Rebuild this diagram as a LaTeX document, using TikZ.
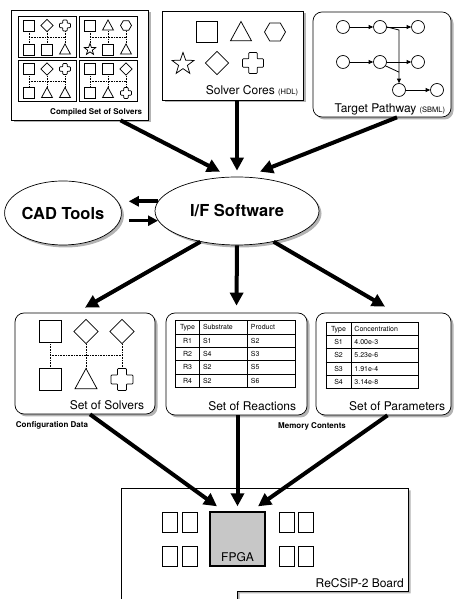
\documentclass[tikz,border=0pt]{standalone}
\usepackage{fontspec}
\setmainfont{TeX Gyre Heros}
\usepackage{array}
\usepackage{tikz}
\usetikzlibrary{arrows.meta,positioning,shapes.geometric,shadows}
\renewcommand{\arraystretch}{1.48}
\setlength{\arrayrulewidth}{0.9pt}
\setlength{\tabcolsep}{3pt}
\tikzset{
  panel/.style={draw,fill=white,line width=0.7pt,
                drop shadow={shadow xshift=2.5pt,shadow yshift=-2.5pt,fill=black!50,opacity=.6}},
  rpanel/.style={panel,rounded corners=9pt},
  blob/.style={panel,ellipse,inner sep=0pt,font=\fontsize{16.5}{19}\selectfont\bfseries},
  subbox/.style={draw,line width=1pt,minimum width=58pt,minimum height=41pt,inner sep=0pt},
  lbl/.style={font=\fontsize{12}{14}\selectfont,inner sep=1pt},
  tag/.style={font=\fontsize{8}{9.5}\selectfont\bfseries,inner sep=1pt},
  tbl/.style={inner sep=0pt,font=\fontsize{7}{8.4}\selectfont},
  spot/.style={circle,draw,line width=0.7pt,minimum size=13pt,inner sep=0pt},
  chip/.style={draw,line width=0.9pt,minimum width=15pt,minimum height=20pt,inner sep=0pt},
  fpgabox/.style={draw,fill=black!22,line width=1.4pt,minimum width=55pt,minimum height=54pt},
  icon/.style={draw,fill=white,line width=0.75pt},
  link/.style={densely dotted,line width=0.6pt},
  bigflow/.style={-{Triangle[length=13pt,width=13pt]},line width=4pt},
  sideflow/.style={-{Triangle[length=10pt,width=10pt]},line width=3.6pt},
  netflow/.style={-{Triangle[length=4.5pt,width=4pt]},line width=0.8pt},
  % solver core symbols, #1 = width
  pics/sq/.style={code={\draw[icon] (-#1/2,-#1/2) rectangle (#1/2,#1/2);}},
  pics/sq/.default=11,
  pics/dm/.style={code={\draw[icon] (0,.55*#1) -- (.55*#1,0) -- (0,-.55*#1) -- (-.55*#1,0) -- cycle;}},
  pics/dm/.default=11,
  pics/tri/.style={code={\draw[icon] (-.5*#1,-.42*#1) -- (.5*#1,-.42*#1) -- (0,.5*#1) -- cycle;}},
  pics/tri/.default=11,
  pics/hex/.style={code={\draw[icon] (.5*#1,0) -- (.25*#1,.43*#1) -- (-.25*#1,.43*#1) -- (-.5*#1,0)
                         -- (-.25*#1,-.43*#1) -- (.25*#1,-.43*#1) -- cycle;}},
  pics/hex/.default=11,
  pics/st/.style={code={\draw[icon] (90:{.55*#1}) -- (126:{.22*#1}) -- (162:{.55*#1}) -- (198:{.22*#1})
                         -- (234:{.55*#1}) -- (270:{.22*#1}) -- (306:{.55*#1}) -- (342:{.22*#1})
                         -- (18:{.55*#1}) -- (54:{.22*#1}) -- cycle;}},
  pics/st/.default=11,
  pics/crs/.style={code={\draw[icon,rounded corners=0.8pt] (-.2*#1,.5*#1) -- (.2*#1,.5*#1) -- (.2*#1,.2*#1)
                         -- (.5*#1,.2*#1) -- (.5*#1,-.2*#1) -- (.2*#1,-.2*#1) -- (.2*#1,-.5*#1)
                         -- (-.2*#1,-.5*#1) -- (-.2*#1,-.2*#1) -- (-.5*#1,-.2*#1) -- (-.5*#1,.2*#1)
                         -- (-.2*#1,.2*#1) -- cycle;}},
  pics/crs/.default=11
}
% #1 centre, #2 scale, #3--#5 top row, #6--#8 bottom row
\newcommand\solvergrid[8]{%
  \begin{scope}[shift={(#1)},scale=#2]
    \draw[link] (-18,0) -- (18,0);
    \foreach \dx in {-18,0,18} \draw[link] (\dx,6.5) -- (\dx,-6.5);
    \pic at (-18,12) {#3=11*#2}; \pic at (0,12) {#4=11*#2}; \pic at (18,12) {#5=11*#2};
    \pic at (-18,-12) {#6=11*#2}; \pic at (0,-12) {#7=11*#2}; \pic at (18,-12) {#8=11*#2};
  \end{scope}}

\begin{document}
\begin{tikzpicture}[x=1pt,y=1pt]
  \useasboundingbox (0,0) rectangle (453,599);

  % inputs
  \node[panel,minimum width=137pt,minimum height=110pt] (compiled) at (79.5,534) {};
  \node[subbox] (tl) at (47,561.5) {};
  \node[subbox] (tr) at (108,561.5) {};
  \node[subbox] (bl) at (47,518) {};
  \node[subbox] (br) at (108,518) {};
  \solvergrid{tl}{1}{sq}{dm}{crs}{sq}{sq}{tri}
  \solvergrid{tr}{1}{sq}{tri}{hex}{st}{sq}{tri}
  \solvergrid{bl}{1}{sq}{dm}{crs}{sq}{tri}{tri}
  \solvergrid{br}{1}{sq}{sq}{dm}{sq}{tri}{crs}
  \node[tag,above left=2.5pt and 5pt of compiled.south east] (compiledlbl) {Compiled Set of Solvers};

  \node[panel,minimum width=141pt,minimum height=89pt] (cores) at (232.5,543.5) {};
  \pic at (207,567) {sq=21};
  \pic at (241,567) {tri=21};
  \pic at (275,567) {hex=21};
  \pic at (183,535) {st=21};
  \pic at (217,536) {dm=21};
  \pic at (253,536) {crs=21};
  \node[lbl,above left=3pt and 4pt of cores.south east] (coreslbl)
    {Solver Cores {\fontsize{7.5}{9}\selectfont(HDL)}};

  \node[rpanel,minimum width=138pt,minimum height=105pt] (pathway) at (382,534.5) {};
  \node[spot] (p11) at (343,572) {};
  \node[spot] (p12) at (380,572) {};
  \node[spot] (p13) at (418,572) {};
  \node[spot] (p21) at (343,537) {};
  \node[spot] (p22) at (380,537) {};
  \node[spot] (p23) at (418,537) {};
  \node[spot] (p31) at (399,509) {};
  \node[spot] (p32) at (437,509) {};
  \draw[netflow] (p11) -- (p12);
  \draw[netflow] (p12) -- (p13);
  \draw[netflow] (p21) -- (p22);
  \draw[netflow] (p22) -- (p23);
  \draw[netflow] (p31) -- (p32);
  \draw[netflow] (p12.east) -- ([yshift=-3pt]p12.east -| p31) -- (p31);
  \draw[line width=0.8pt] (p22.-35) -- ([yshift=11pt]p31.north);
  \node[lbl,above left=1pt and 5pt of pathway.south east] (pathwaylbl)
    {Target Pathway {\fontsize{7.5}{9}\selectfont(SBML)}};

  % software
  \node[blob,minimum width=164pt,minimum height=68pt] (iface) at (237,388) {I/F Software};
  \node[blob,minimum width=104pt,minimum height=64pt] (cad) at (63,386) {CAD Tools};
  \draw[bigflow] ([xshift=41pt]compiled.south) -- ([xshift=-17pt,yshift=5pt]iface.north);
  \draw[bigflow] (iface.north |- cores.south) -- ([yshift=6pt]iface.north);
  \draw[bigflow] ([xshift=15pt]pathway.south) -- ([xshift=23pt,yshift=5pt]iface.north);
  \draw[sideflow,shorten >=7pt] (iface.173) -- (cad.east |- iface.173);
  \draw[sideflow,shorten <=7pt] (cad.east |- iface.187) -- (iface.187);

  % generated data
  \node[rpanel,minimum width=140pt,minimum height=101pt] (solvers) at (85,235.5) {};
  \coordinate (grid) at (86,243.5);
  \solvergrid{grid}{2}{sq}{dm}{dm}{sq}{tri}{crs}
  \node[lbl,above left=3.5pt and 10pt of solvers.south east] (solverslbl) {Set of Solvers};

  \node[rpanel,minimum width=141pt,minimum height=102pt] (reactions) at (236.5,235) {};
  \node[tbl] (rtab) at (235.5,245) {%
    \begin{tabular}{|>{\centering\arraybackslash}p{17pt}|p{41pt}|p{41pt}|}
    \hline Type & Substrate & Product\\
    \hline R1 & S1 & S2\\
    \hline R2 & S4 & S3\\
    \hline R3 & S2 & S5\\
    \hline R4 & S2 & S6\\
    \hline
    \end{tabular}};
  \node[lbl,above left=3.5pt and 10pt of reactions.south east] (reactionslbl) {Set of Reactions};

  \node[rpanel,minimum width=135pt,minimum height=102pt] (params) at (383.5,235) {};
  \node[tbl] (ptab) at (372.5,243.5) {%
    \begin{tabular}{|>{\centering\arraybackslash}p{18pt}|p{61pt}|}
    \hline Type & Concentration\\
    \hline S1 & 4.00e-3\\
    \hline S2 & 5.23e-6\\
    \hline S3 & 1.91e-4\\
    \hline S4 & 3.14e-8\\
    \hline
    \end{tabular}};
  \node[lbl,above left=3.5pt and 5pt of params.south east] (paramslbl) {Set of Parameters};

  \draw[bigflow] (iface.220) -- ([yshift=5pt]solvers.north);
  \draw[bigflow] (iface.south) -- ([yshift=7pt]reactions.north);
  \draw[bigflow] (iface.320) -- ([xshift=1.5pt,yshift=6pt]params.north);

  \node[tag] (config) at (52,174) {Configuration Data};
  \node[tag] (memory) at (312,173) {Memory Contents};

  % board
  \draw[panel] (121,-5) -- (121,111) -- (408,111) -- (408,8) -- (237,8) -- (237,-5);
  \coordinate (notch) at (408,8);
  \node[fpgabox] (fpga) at (237.5,60) {};
  \node[lbl,above=3.5pt of fpga.south] (fpgalbl) {FPGA};
  \node[chip] (c1) at (170,77) {};
  \node[chip] (c2) at (189.5,77) {};
  \node[chip] (c3) at (170,42.5) {};
  \node[chip] (c4) at (189.5,42.5) {};
  \node[chip] (c5) at (286.5,77) {};
  \node[chip] (c6) at (305.5,77) {};
  \node[chip] (c7) at (286.5,42.5) {};
  \node[chip] (c8) at (305.5,42.5) {};
  \node[lbl,above left=2.5pt and 3pt of notch] (boardlbl) {ReCSiP-2 Board};

  \draw[bigflow] ([xshift=5pt]solvers.south) -- ([xshift=-20.5pt,yshift=5pt]fpga.north);
  \draw[bigflow] (fpga.north |- reactions.south) -- ([yshift=5pt]fpga.north);
  \draw[bigflow] ([xshift=4pt]params.south) -- ([xshift=20.5pt,yshift=5pt]fpga.north);
\end{tikzpicture}
\end{document}
